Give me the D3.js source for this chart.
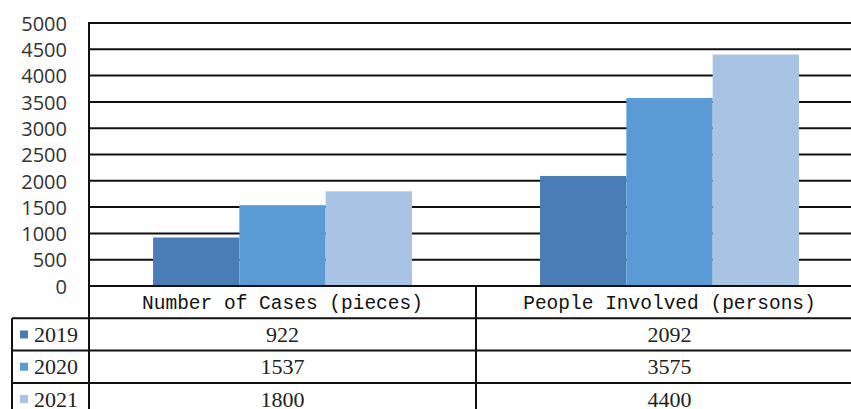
<!DOCTYPE html>
<html>
<head>
<meta charset="utf-8">
<script src="https://cdn.jsdelivr.net/npm/d3@7"></script>
<style>
  body { margin: 0; background: #fff; }
  svg { display: block; }
</style>
</head>
<body>
<div id="wrapper"></div>
<script>
const categories = ["Number of Cases (pieces)", "People Involved (persons)"];
const years = ["2019", "2020", "2021"];
const values2019 = [922, 2092];
const values2020 = [1537, 3575];
const values2021 = [1800, 4400];
const yTicks = [0, 500, 1000, 1500, 2000, 2500, 3000, 3500, 4000, 4500, 5000];
const colors = ["#4a7db5", "#5b9bd5", "#a9c3e4"];

function drawChart() {
    const seriesValues = [values2019, values2020, values2021];
    const rows = years.map((y, i) => ({ year: y, values: seriesValues[i], color: colors[i] }));

    const dimentions = {
        width: 851,
        height: 409,
        margin: { top: 23, left: 89, bottom: 123 },
        plotRight: 863,
        rowHeight: 32.3,
        tableLeft: 12
    };
    const zeroY = dimentions.height - dimentions.margin.bottom;

    const wrapper = d3.select("#wrapper")
        .append("svg")
        .attr("width", dimentions.width)
        .attr("height", dimentions.height)

    const xScale = d3.scaleBand()
        .domain(categories)
        .range([dimentions.margin.left, dimentions.plotRight])
        .padding(0)

    const xInner = d3.scaleBand()
        .domain(years)
        .range([0, xScale.bandwidth()])
        .paddingInner(0)
        .paddingOuter(0.742)

    const yScale = d3.scaleLinear()
        .domain([0, 5000])
        .range([zeroY, dimentions.margin.top])

    // gridlines
    wrapper.append("g")
        .selectAll("line")
        .data(yTicks.filter(d => d > 0))
        .join("line")
        .attr("x1", dimentions.margin.left)
        .attr("x2", dimentions.plotRight)
        .attr("y1", d => yScale(d))
        .attr("y2", d => yScale(d))
        .attr("stroke", "#111")
        .attr("stroke-width", 2)

    // bars
    wrapper.append("g")
        .selectAll("g")
        .data(rows)
        .join("g")
        .attr("fill", d => d.color)
        .selectAll("rect")
        .data(d => d.values.map((v, i) => ({ year: d.year, cat: categories[i], value: v })))
        .join("rect")
        .attr("x", d => xScale(d.cat) + xInner(d.year))
        .attr("width", xInner.bandwidth())
        .attr("y", d => yScale(d.value))
        .attr("height", d => zeroY - yScale(d.value))

    // y axis
    const yAxisGenerator = d3.axisLeft(yScale)
        .tickValues(yTicks)
        .tickFormat(d3.format("d"))
        .tickSize(0)
        .tickPadding(22)
    const yAxis = wrapper.append("g")
        .attr("transform", `translate(${dimentions.margin.left},0)`)
        .call(yAxisGenerator)
    yAxis.select(".domain").remove()
    yAxis.selectAll("text")
        .attr("font-family", "'Open Sans', sans-serif")
        .attr("font-size", 20)
        .attr("fill", "#333")
        .attr("dy", "0.36em")

    // table
    const rowY = d3.scaleBand()
        .domain(["header"].concat(years))
        .range([zeroY, zeroY + dimentions.rowHeight * 4])

    const lines = wrapper.append("g").attr("stroke", "#111").attr("stroke-width", 2)
    // axis line at zero
    lines.append("line")
        .attr("x1", dimentions.margin.left).attr("x2", dimentions.plotRight)
        .attr("y1", zeroY).attr("y2", zeroY)
    // vertical y axis line
    lines.append("line")
        .attr("x1", dimentions.margin.left).attr("x2", dimentions.margin.left)
        .attr("y1", dimentions.margin.top - 1).attr("y2", dimentions.height + 10)
    // category divider
    lines.append("line")
        .attr("x1", xScale(categories[1])).attr("x2", xScale(categories[1]))
        .attr("y1", zeroY).attr("y2", dimentions.height + 10)
    // left table border
    lines.append("line")
        .attr("x1", dimentions.tableLeft).attr("x2", dimentions.tableLeft)
        .attr("y1", rowY(years[0])).attr("y2", dimentions.height + 10)
    // row lines
    lines.selectAll(".row")
        .data(years)
        .join("line")
        .attr("class", "row")
        .attr("x1", dimentions.tableLeft).attr("x2", dimentions.plotRight)
        .attr("y1", d => rowY(d)).attr("y2", d => rowY(d))

    // header labels
    wrapper.append("g")
        .selectAll("text")
        .data(categories)
        .join("text")
        .attr("x", d => xScale(d) + xScale.bandwidth() / 2)
        .attr("y", rowY("header") + rowY.bandwidth() / 2)
        .attr("dy", "0.35em")
        .attr("text-anchor", "middle")
        .attr("font-family", "'Liberation Mono', monospace")
        .attr("font-size", 19.5)
        .attr("fill", "#111")
        .text(d => d)

    // legend column
    const legend = wrapper.append("g")
        .selectAll("g")
        .data(rows)
        .join("g")
        .attr("transform", d => `translate(${dimentions.tableLeft},${rowY(d.year) + rowY.bandwidth() / 2})`)
    legend.append("rect")
        .attr("x", 8).attr("y", -4)
        .attr("width", 8).attr("height", 8)
        .attr("fill", d => d.color)
    legend.append("text")
        .attr("x", 22)
        .attr("dy", "0.35em")
        .attr("font-family", "'Liberation Serif', serif")
        .attr("font-size", 22)
        .attr("fill", "#222")
        .text(d => d.year)

    // values
    wrapper.append("g")
        .selectAll("g")
        .data(rows)
        .join("g")
        .selectAll("text")
        .data(d => d.values.map((v, i) => ({ year: d.year, cat: categories[i], value: v })))
        .join("text")
        .attr("x", d => xScale(d.cat) + xScale.bandwidth() / 2)
        .attr("y", d => rowY(d.year) + rowY.bandwidth() / 2)
        .attr("dy", "0.35em")
        .attr("text-anchor", "middle")
        .attr("font-family", "'Liberation Serif', serif")
        .attr("font-size", 22)
        .attr("fill", "#222")
        .text(d => d.value)
}

drawChart();
</script>
</body>
</html>
